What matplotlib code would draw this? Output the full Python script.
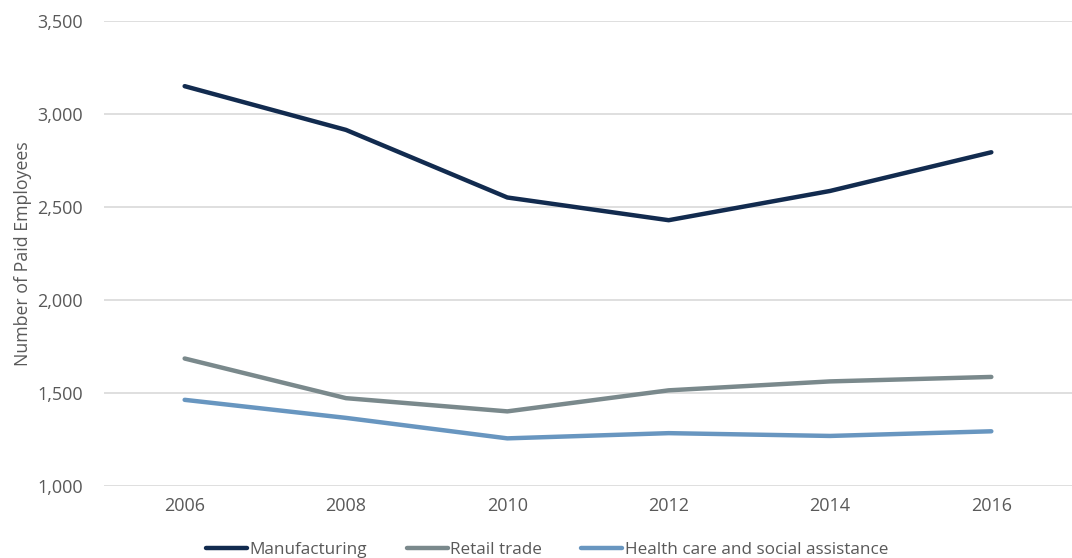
import matplotlib.pyplot as plt

# data
years = ["2006", "2008", "2010", "2012", "2014", "2016"]
manufacturing = [3148, 2913, 2550, 2428, 2585, 2793]
retail_trade = [1685, 1472, 1401, 1514, 1562, 1586]
health_care = [1463, 1366, 1256, 1284, 1269, 1294]

plt.rcParams['font.family'] = ['Open Sans', 'DejaVu Sans']

fig = plt.figure(figsize=(10.72, 5.58), dpi=100)
ax = fig.add_axes([0.097, 0.129, 0.903, 0.834])

x = range(len(years))
ax.plot(x, manufacturing, color='#122B4F', lw=3.2, solid_capstyle='round', label='Manufacturing')
ax.plot(x, retail_trade, color='#7A898C', lw=3.2, solid_capstyle='round', label='Retail trade')
ax.plot(x, health_care, color='#6896C0', lw=3.2, solid_capstyle='round', label='Health care and social assistance')

ax.set_xlim(-0.5, 5.5)
ax.set_ylim(1000, 3500)
ax.set_yticks(range(1000, 3501, 500))
ax.set_yticklabels([f"{v:,}" for v in range(1000, 3501, 500)])
ax.set_xticks(list(x))
ax.set_xticklabels(years)
ax.grid(axis='y', color='#D9D9D9', lw=1.2)
ax.set_axisbelow(True)
for s in ax.spines.values():
    s.set_visible(False)
ax.tick_params(length=0, labelsize=13, labelcolor='#595959', pad=8)
ax.tick_params(axis='y', pad=15)
ax.set_ylabel('Number of Paid Employees', fontsize=12.8, color='#595959')
ax.yaxis.set_label_coords(-0.074, 0.5)

ax.legend(loc='upper center', bbox_to_anchor=(0.458, -0.088), ncol=3, frameon=False,
          fontsize=12.3, labelcolor='#595959', handlelength=2.4, handletextpad=0.15,
          columnspacing=2.3)

fig.savefig('out.png', dpi=100)
